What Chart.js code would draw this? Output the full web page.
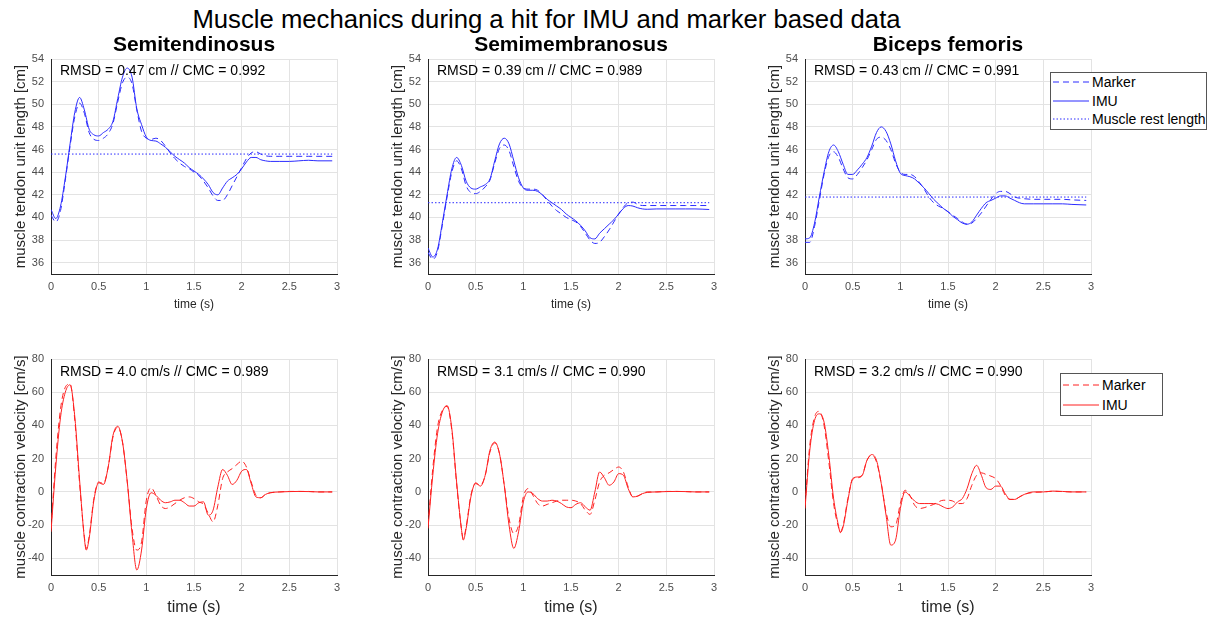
<!DOCTYPE html>
<html>
<head>
<meta charset="utf-8">
<script src="https://cdn.jsdelivr.net/npm/chart.js@4.4.1/dist/chart.umd.min.js"></script>
<style>
  body { margin: 0; background: #fff; width: 1212px; height: 619px; overflow: hidden; font-family: "Liberation Sans", Arial, sans-serif; }
  #wrap { position: relative; width: 1212px; height: 619px; }
  #wrap canvas { position: absolute; }
  #mainTitle { position: absolute; left: 0; top: 4px; width: 1093px; text-align: center; font-size: 25.7px; line-height: 30px; color: #000; }
  .legend { position: absolute; background: #fff; border: 1px solid #555; box-sizing: border-box; font-size: 14px; color: #000; }
  .legend .row { display: flex; align-items: center; padding-left: 2px; white-space: nowrap; }
  .legend svg { margin-right: 3px; }
</style>
</head>
<body>
<div id="wrap">
  <div id="mainTitle">Muscle mechanics during a hit for IMU and marker based data</div>
  <canvas id="len1" width="350" height="281" style="left:0px;top:31px"></canvas>
  <canvas id="len2" width="350" height="281" style="left:377px;top:31px"></canvas>
  <canvas id="len3" width="350" height="281" style="left:754px;top:31px"></canvas>
  <canvas id="vel1" width="350" height="277" style="left:0px;top:340px"></canvas>
  <canvas id="vel2" width="350" height="277" style="left:377px;top:340px"></canvas>
  <canvas id="vel3" width="350" height="277" style="left:754px;top:340px"></canvas>
  <div id="legendLen" class="legend" style="left:1050px;top:72px;width:157px;height:58px;"></div>
  <div id="legendVel" class="legend" style="left:1060px;top:373px;width:103px;height:43px;padding-top:1px;"></div>
</div>
<script>
// ---- data ----
const muscles = ["Semitendinosus", "Semimembranosus", "Biceps femoris"];
const xTicks = [0, 0.5, 1, 1.5, 2, 2.5, 3];
const lenTicks = [36, 38, 40, 42, 44, 46, 48, 50, 52, 54];
const velTicks = [-40, -20, 0, 20, 40, 60, 80];

// time (s) of the length samples
const tLen = [0, 0.05, 0.1, 0.15, 0.2, 0.25, 0.3, 0.35, 0.4, 0.45, 0.5, 0.55, 0.6, 0.65, 0.7, 0.75, 0.8, 0.85, 0.9, 0.95,
  1.0, 1.05, 1.1, 1.15, 1.2, 1.25, 1.3, 1.35, 1.4, 1.45, 1.5, 1.55, 1.6, 1.65, 1.7, 1.75, 1.8, 1.85, 1.9, 1.95,
  2.0, 2.05, 2.1, 2.15, 2.2, 2.25, 2.3, 2.4, 2.5, 2.6, 2.7, 2.8, 2.95];

// muscle tendon unit length [cm]
const stLenMarker = [40.2, 39.6, 40.6, 43.3, 46.3, 48.9, 50.1, 49.2, 47.5, 46.9, 46.8, 47.0, 47.4, 48.3, 50.2, 51.9, 52.4, 51.8, 49.5, 47.6,
  47.0, 46.9, 47.0, 46.8, 46.3, 45.7, 45.2, 44.8, 44.5, 44.3, 44.0, 43.7, 43.2, 42.6, 41.9, 41.5, 41.5, 42.0, 42.8, 43.6,
  44.4, 45.2, 45.7, 45.8, 45.6, 45.45, 45.4, 45.4, 45.4, 45.4, 45.4, 45.4, 45.4];
const stLenImu = [40.7, 39.9, 41.0, 43.5, 46.5, 49.3, 50.6, 49.5, 47.8, 47.3, 47.2, 47.5, 47.8, 48.5, 50.5, 52.4, 53.2, 52.4, 49.6, 48.2,
  47.1, 46.8, 46.75, 46.5, 46.2, 45.8, 45.4, 45.1, 44.8, 44.4, 44.1, 43.8, 43.4, 42.9, 42.2, 42.0, 42.6, 43.2, 43.5, 43.8,
  44.3, 44.9, 45.3, 45.3, 45.1, 45.0, 44.95, 44.95, 44.95, 45.0, 45.05, 45.0, 45.0];
const smLenMarker = [36.9, 36.3, 37.0, 39.3, 41.8, 44.0, 45.0, 44.3, 42.8, 42.2, 42.1, 42.3, 42.7, 43.3, 44.8, 46.1, 46.4, 45.9, 44.5, 43.2,
  42.6, 42.5, 42.5, 42.4, 42.0, 41.5, 41.0, 40.6, 40.3, 40.0, 39.8, 39.6, 39.2, 38.6, 38.0, 37.7, 37.8, 38.3, 38.9, 39.6,
  40.3, 40.9, 41.3, 41.35, 41.15, 41.05, 41.05, 41.05, 41.05, 41.05, 41.05, 41.05, 41.05];
const smLenImu = [37.3, 36.5, 37.2, 39.5, 42.0, 44.3, 45.3, 44.6, 43.2, 42.6, 42.5, 42.7, 42.9, 43.4, 45.0, 46.5, 47.0, 46.5, 45.0, 43.5,
  42.6, 42.4, 42.4, 42.3, 42.0, 41.6, 41.3, 41.0, 40.7, 40.3, 40.0, 39.7, 39.3, 38.8, 38.2, 38.1, 38.6, 39.0, 39.4, 39.8,
  40.3, 40.8, 41.05, 41.0, 40.85, 40.75, 40.72, 40.75, 40.75, 40.75, 40.75, 40.75, 40.7];
const bfLenMarker = [37.8, 37.8, 39.2, 41.5, 43.8, 45.4, 45.8, 45.3, 44.3, 43.5, 43.4, 43.8, 44.4, 45.1, 46.0, 46.9, 47.1, 46.8, 46.0, 44.8,
  44.0, 43.8, 43.8, 43.6, 43.1, 42.5, 41.8, 41.3, 41.0, 40.8, 40.5, 40.2, 39.9, 39.6, 39.4, 39.5, 39.9, 40.4, 41.0, 41.6,
  42.1, 42.3, 42.3, 42.1, 41.8, 41.7, 41.65, 41.6, 41.6, 41.6, 41.6, 41.55, 41.5];
const bfLenImu = [38.1, 38.2, 39.5, 41.8, 44.0, 45.8, 46.4, 45.8, 44.7, 43.8, 43.8, 44.2, 44.7, 45.3, 46.3, 47.5, 48.0, 47.6, 46.5, 45.0,
  43.9, 43.7, 43.6, 43.4, 43.0, 42.6, 42.1, 41.6, 41.2, 40.8, 40.5, 40.1, 39.8, 39.5, 39.4, 39.6, 40.2, 40.8, 41.3, 41.5,
  41.7, 41.9, 41.9, 41.7, 41.5, 41.3, 41.2, 41.2, 41.2, 41.2, 41.2, 41.15, 41.1];
const restLength = [45.6, 41.3, 41.8];

// time (s) of the velocity samples
const tVel = [0, 0.05, 0.1, 0.15, 0.2, 0.25, 0.3, 0.35, 0.37, 0.4, 0.45, 0.5, 0.55, 0.6, 0.65, 0.7, 0.75, 0.8, 0.85, 0.9, 0.95,
  1.0, 1.05, 1.1, 1.15, 1.2, 1.25, 1.3, 1.35, 1.4, 1.45, 1.5, 1.55, 1.6, 1.65, 1.7, 1.75, 1.8, 1.85, 1.9, 1.95,
  2.0, 2.05, 2.1, 2.15, 2.2, 2.25, 2.3, 2.4, 2.5, 2.6, 2.7, 2.8, 2.95];

// muscle contraction velocity [cm/s]
const stVelMarker = [-22, 20, 50, 63, 65, 43, 5, -27, -34, -27, -4, 6, 5, 15, 33, 39, 30, 6, -22, -35, -30,
  -5, 2.5, -2, -8, -10, -9, -7, -5, -3.5, -3, -4, -6, -7.5, -13, -18, -8, 8, 12, 14, 16.5,
  18.5, 15, 6, -2, -3.5, -1.5, -0.5, 0, 0.3, 0.3, 0.3, 0, 0];
const stVelImu = [-24, 15, 45, 60, 64.5, 45, 7, -28, -35, -28, -5, 5.5, 4.5, 15, 34, 39.5, 30, 6, -25, -47, -35,
  -10, -0.5, -2, -5, -6.5, -6, -5, -5, -6.5, -8.5, -8.5, -6.5, -6, -14, -11, 3, 13.5, 10, 4.5, 7,
  12.5, 13.5, 5, -3, -3.5, -1.5, -0.5, 0, 0.2, 0.3, 0.2, 0, 0];
const smVelMarker = [-20, 14, 39, 49, 51.5, 37, 5, -22, -28, -21, -2, 5, 4, 10, 24, 29.5, 23, 4, -16, -25, -20,
  -3, 2, -2, -7, -8.5, -7.5, -6.5, -5.5, -5, -5, -5, -5.5, -7, -11, -13.5, -5, 6, 10, 11.5, 13.5,
  15, 12, 3, -3, -2.5, -1, 0, 0, 0.3, 0.3, 0.2, 0, 0];
const smVelImu = [-22, 10, 35, 48, 52, 38, 6, -22, -29, -22, -3, 5.5, 3.5, 10, 25, 30, 23, 4, -20, -34, -24,
  -6, 0, -1, -4, -5.5, -5.5, -5, -5.5, -7, -9, -9.5, -7.5, -6.5, -9, -11, 0, 12, 8.5, 4, 6,
  11, 10, 2, -3, -2.5, -1, -0.3, 0, 0.2, 0.3, 0.2, 0, 0];
const bfVelMarker = [-8, 28, 45, 48.5, 40, 18, -7, -21, -24, -20, -4, 7.5, 8.5, 10, 19, 22, 18, 5, -12, -21, -20,
  -7, 1, -2, -8, -10, -9.5, -8.5, -7.5, -6, -5, -5, -5.5, -7, -7, -4, 4, 10, 11.5, 10.5, 9.5,
  8, 4, -2, -4.5, -4.5, -3, -1.5, -0.3, 0, 0.4, 0.2, 0, 0];
const bfVelImu = [-10, 25, 43, 47, 42, 22, -4, -20, -24.5, -21, -5, 8, 9, 10, 19, 22.5, 19, 5, -14, -32, -29,
  -10, 0, -2.5, -5.5, -7, -7, -7, -7, -7.5, -9, -10, -9, -6, -4, 2, 11, 16, 10, 2.5, 1.5,
  3.5, 3.5, -1, -4.5, -4.5, -3, -1.5, 0, 0, 0.5, 0.3, 0, 0];

const lenStats = ["RMSD = 0.47 cm // CMC = 0.992", "RMSD = 0.39 cm // CMC = 0.989", "RMSD = 0.43 cm // CMC = 0.991"];
const velStats = ["RMSD = 4.0 cm/s // CMC = 0.989", "RMSD = 3.1 cm/s // CMC = 0.990", "RMSD = 3.2 cm/s // CMC = 0.990"];

// ---- drawing ----
const FONT = '"Liberation Sans", Arial, sans-serif';
const BLUE = "#2b2bff";
const RED = "#ff2020";
const DASH = [6, 4];
const DOT = [1.5, 2];

function pts(xs, ys) {
  return xs.map((x, i) => ({ x: x, y: ys[i] }));
}

// writes the RMSD / CMC note in the upper-left corner of the axes
const statsText = {
  id: "statsText",
  afterDatasetsDraw(chart, args, opts) {
    const { ctx, chartArea } = chart;
    ctx.save();
    ctx.font = "14px " + FONT;
    ctx.fillStyle = "#000";
    ctx.textBaseline = "middle";
    ctx.fillText(opts.text, chartArea.left + 9, chartArea.top + opts.dy);
    ctx.restore();
  },
};

function makePanel(id, cfg) {
  const ctx = document.getElementById(id).getContext("2d");
  return new Chart(ctx, {
    type: "line",
    data: { datasets: cfg.datasets },
    options: {
      responsive: false,
      animation: false,
      events: [],
      layout: { padding: { top: cfg.padTop, right: 13, bottom: 0, left: 0 } },
      elements: {
        point: { radius: 0 },
        line: { borderWidth: 1, cubicInterpolationMode: "monotone" },
      },
      plugins: {
        legend: { display: false },
        tooltip: { enabled: false },
        title: {
          display: !!cfg.title,
          text: cfg.title,
          fullSize: false,
          color: "#000",
          font: { family: FONT, size: 21, weight: "bold" },
          padding: { top: 1.4, bottom: 1.4 },
        },
        statsText: { text: cfg.stats, dy: cfg.statsDy },
      },
      scales: {
        x: {
          type: "linear",
          min: 0,
          max: 3,
          afterBuildTicks: (axis) => { axis.ticks = xTicks.map((v) => ({ value: v })); },
          afterFit: (axis) => { axis.height = cfg.xHeight; },
          ticks: { padding: 6, color: "#4d4d4d", font: { family: FONT, size: 11 }, callback: (v) => String(v) },
          grid: { color: "#e3e3e3", drawTicks: false },
          border: { color: "#262626" },
          title: { display: true, text: "time (s)", color: "#262626", font: { family: FONT, size: cfg.xTitleSize }, padding: 0 },
        },
        y: {
          min: cfg.yMin,
          max: cfg.yMax,
          afterBuildTicks: (axis) => { axis.ticks = cfg.yTicks.map((v) => ({ value: v })); },
          afterFit: (axis) => { axis.width = 51; },
          ticks: { padding: 7, color: "#4d4d4d", font: { family: FONT, size: 11 }, callback: (v) => String(v) },
          grid: { color: "#e3e3e3", drawTicks: false },
          border: { color: "#262626" },
          title: { display: true, text: cfg.yTitle, color: "#262626", font: { family: FONT, size: 15 }, padding: { top: 12, bottom: 0 } },
        },
      },
    },
    plugins: [statsText],
  });
}

const lenData = [[stLenMarker, stLenImu], [smLenMarker, smLenImu], [bfLenMarker, bfLenImu]];
const velData = [[stVelMarker, stVelImu], [smVelMarker, smVelImu], [bfVelMarker, bfVelImu]];

const lenCharts = lenData.map((pair, i) =>
  makePanel("len" + (i + 1), {
    title: muscles[i],
    padTop: 0,
    xHeight: 38,
    xTitleSize: 12,
    yMin: 35,
    yMax: 54,
    yTicks: lenTicks,
    yTitle: "muscle tendon unit length [cm]",
    stats: lenStats[i],
    statsDy: 12,
    datasets: [
      { label: "Marker", data: pts(tLen, pair[0]), borderColor: BLUE, borderDash: DASH },
      { label: "IMU", data: pts(tLen, pair[1]), borderColor: BLUE },
      {
        label: "Muscle rest length",
        data: pts([tLen[0], tLen[tLen.length - 1]], [restLength[i], restLength[i]]),
        borderColor: BLUE,
        borderDash: DOT,
      },
    ],
  })
);

const velCharts = velData.map((pair, i) =>
  makePanel("vel" + (i + 1), {
    title: "",
    padTop: 19,
    xHeight: 42,
    xTitleSize: 16,
    yMin: -50,
    yMax: 80,
    yTicks: velTicks,
    yTitle: "muscle contraction velocity [cm/s]",
    stats: velStats[i],
    statsDy: 13,
    datasets: [
      { label: "Marker", data: pts(tVel, pair[0]), borderColor: RED, borderDash: DASH },
      { label: "IMU", data: pts(tVel, pair[1]), borderColor: RED },
    ],
  })
);

// html legend built from the chart's own datasets
function htmlLegend(el, chart, rowHeight) {
  chart.data.datasets.forEach((ds) => {
    const row = document.createElement("div");
    row.className = "row";
    row.style.height = rowHeight + "px";
    const dash = ds.borderDash ? ds.borderDash.join(",") : "none";
    row.innerHTML =
      '<svg width="36" height="4"><line x1="0" y1="2" x2="36" y2="2" stroke="' + ds.borderColor +
      '" stroke-width="1" stroke-dasharray="' + dash + '"/></svg><span>' + ds.label + "</span>";
    el.appendChild(row);
  });
}
htmlLegend(document.getElementById("legendLen"), lenCharts[2], 18.6);
htmlLegend(document.getElementById("legendVel"), velCharts[2], 20);
</script>
</body>
</html>
